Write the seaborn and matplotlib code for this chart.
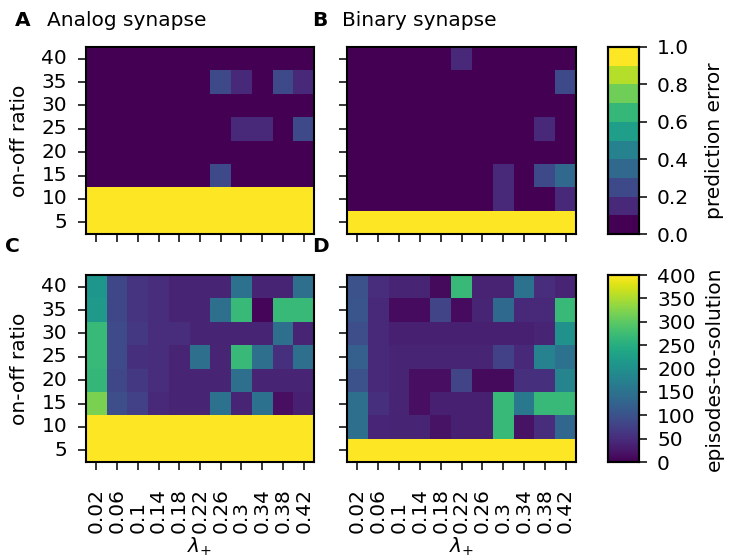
import numpy as np
import pandas as pd
import matplotlib
matplotlib.use("Agg")
import matplotlib as mpl
import matplotlib.pyplot as plt
import seaborn as sns

# ---- data ----
lambda_plus = ["0.02", "0.06", "0.1", "0.14", "0.18", "0.22", "0.26", "0.3", "0.34", "0.38", "0.42"]
on_off_ratio = ["40", "35", "30", "25", "20", "15", "10", "5"]  # top to bottom

analog_error = [
    [0, 0, 0, 0, 0, 0, 0, 0, 0, 0, 0],
    [0, 0, 0, 0, 0, 0, 0.25, 0.15, 0, 0.25, 0.15],
    [0, 0, 0, 0, 0, 0, 0, 0, 0, 0, 0],
    [0, 0, 0, 0, 0, 0, 0, 0.15, 0.15, 0, 0.25],
    [0, 0, 0, 0, 0, 0, 0, 0, 0, 0, 0],
    [0, 0, 0, 0, 0, 0, 0.25, 0, 0, 0, 0],
    [1, 1, 1, 1, 1, 1, 1, 1, 1, 1, 1],
    [1, 1, 1, 1, 1, 1, 1, 1, 1, 1, 1],
]
binary_error = [
    [0, 0, 0, 0, 0, 0.15, 0, 0, 0, 0, 0],
    [0, 0, 0, 0, 0, 0, 0, 0, 0, 0, 0.25],
    [0, 0, 0, 0, 0, 0, 0, 0, 0, 0, 0],
    [0, 0, 0, 0, 0, 0, 0, 0, 0, 0.15, 0],
    [0, 0, 0, 0, 0, 0, 0, 0, 0, 0, 0],
    [0, 0, 0, 0, 0, 0, 0, 0.15, 0, 0.25, 0.35],
    [0, 0, 0, 0, 0, 0, 0, 0.15, 0, 0, 0.15],
    [1, 1, 1, 1, 1, 1, 1, 1, 1, 1, 1],
]
analog_episodes = [
    [210, 85, 60, 50, 40, 40, 40, 150, 40, 40, 145],
    [215, 85, 60, 50, 40, 40, 145, 270, 5, 270, 270],
    [270, 90, 65, 50, 50, 40, 40, 40, 40, 145, 40],
    [270, 90, 55, 50, 40, 145, 40, 270, 145, 55, 145],
    [265, 85, 65, 50, 40, 40, 40, 145, 40, 40, 40],
    [320, 95, 75, 45, 40, 40, 150, 40, 150, 15, 35],
    [400, 400, 400, 400, 400, 400, 400, 400, 400, 400, 400],
    [400, 400, 400, 400, 400, 400, 400, 400, 400, 400, 400],
]
binary_episodes = [
    [100, 50, 40, 40, 10, 270, 38, 38, 150, 50, 40],
    [105, 45, 12, 12, 80, 12, 40, 135, 45, 45, 270],
    [95, 45, 35, 35, 35, 35, 35, 35, 35, 40, 200],
    [120, 45, 40, 40, 40, 40, 40, 75, 45, 175, 150],
    [100, 45, 40, 15, 15, 80, 10, 10, 55, 55, 180],
    [145, 55, 40, 15, 35, 35, 35, 270, 160, 270, 270],
    [145, 42, 40, 40, 20, 35, 35, 270, 20, 50, 130],
    [400, 400, 400, 400, 400, 400, 400, 400, 400, 400, 400],
]

# ---- style ----
sns.set_style("ticks")
plt.rcParams["font.family"] = ["DejaVu Sans"]
FS = 14.5
TL = 6.0   # tick length (pt)
TP = 5.0   # tick pad (pt)
plt.rcParams.update({
    "font.size": FS,
    "xtick.labelsize": FS,
    "ytick.labelsize": FS,
    "text.color": "black",
    "axes.labelcolor": "black",
    "xtick.color": "black",
    "ytick.color": "black",
})

W, H = 729, 557
fig = plt.figure(figsize=(W / 100, H / 100), dpi=100)

def rect(x0, y0, x1, y1):
    return [x0 / W, 1 - y1 / H, (x1 - x0) / W, (y1 - y0) / H]

axA = fig.add_axes(rect(86, 47, 314, 234))
axB = fig.add_axes(rect(347, 47, 576, 234))
axC = fig.add_axes(rect(86, 275, 314, 462))
axD = fig.add_axes(rect(347, 275, 576, 462))
cax1 = fig.add_axes(rect(608, 47, 639, 234))
cax2 = fig.add_axes(rect(608, 275, 639, 462))

err_cmap = mpl.colormaps["viridis"].resampled(10)
ep_cmap = mpl.colormaps["viridis"]

def frame(vals):
    return pd.DataFrame(vals, index=on_off_ratio, columns=lambda_plus)

# distance (pt) from axes bottom to the common bottom of rotated x tick labels
XLAB_BOTTOM_PT = (533 - 462) * 72 / 100

panels = [
    (axA, analog_error, err_cmap, 0, 1, cax1, True),
    (axB, binary_error, err_cmap, 0, 1, cax1, False),
    (axC, analog_episodes, ep_cmap, 0, 400, cax2, True),
    (axD, binary_episodes, ep_cmap, 0, 400, cax2, False),
]
for i, (ax, vals, cmap, vmin, vmax, cax, draw_cbar) in enumerate(panels):
    sns.heatmap(frame(vals), ax=ax, cmap=cmap, vmin=vmin, vmax=vmax,
                cbar=draw_cbar, cbar_ax=cax if draw_cbar else None,
                xticklabels=lambda_plus, yticklabels=on_off_ratio,
                linewidths=0)
    for s in ax.spines.values():
        s.set_visible(True)
        s.set_linewidth(1.5)
        s.set_color("black")
    ax.tick_params(axis="both", which="both", length=TL, width=1.1, color="black",
                   bottom=True, left=True, pad=TP)
    ax.tick_params(axis="y", pad=TP + 2.5)
    left_col = i in (0, 2)
    bottom_row = i in (2, 3)
    if left_col:
        ax.set_yticklabels(on_off_ratio, rotation=0)
        ax.set_ylabel("on-off ratio", fontsize=FS)
        ax.yaxis.set_label_coords((20 - 86) / 228, 0.5)
        ax.yaxis.label.set_verticalalignment("center")
    else:
        ax.set_yticklabels([])
        ax.set_ylabel("")
    if bottom_row:
        ax.set_xticklabels(lambda_plus, rotation=90)
        ax.tick_params(axis="x", pad=XLAB_BOTTOM_PT - TL)
        for lbl in ax.get_xticklabels():
            lbl.set_verticalalignment("bottom")
        ax.set_xlabel(r"$\lambda_{+}$", fontsize=FS, labelpad=2)
    else:
        ax.set_xticklabels([])
        ax.set_xlabel("")

for cax, ticks, lab in [(cax1, [0, 0.2, 0.4, 0.6, 0.8, 1.0], "prediction error"),
                        (cax2, [0, 50, 100, 150, 200, 250, 300, 350, 400], "episodes-to-solution")]:
    cax.set_yticks(ticks)
    if ticks[-1] == 1.0:
        cax.set_yticklabels([f"{t:.1f}" for t in ticks])
    else:
        cax.set_yticklabels([str(t) for t in ticks])
    cax.tick_params(length=TL, width=1.1, labelsize=FS, color="black", pad=TP + 2)
    cax.set_ylabel(lab, fontsize=FS)
    cax.yaxis.set_label_coords((714 - 608) / 31, 0.5)
    cax.yaxis.label.set_verticalalignment("center")
    cax.yaxis.label.set_horizontalalignment("center")
    for s in cax.spines.values():
        s.set_visible(True)
        s.set_linewidth(1.5)
        s.set_color("black")

# panel letters and titles
fig.text(15 / W, 1 - 21 / H, "A", fontweight="bold", fontsize=FS, va="center", ha="left")
fig.text(47 / W, 1 - 21 / H, "Analog synapse", fontsize=FS, va="center", ha="left")
fig.text(312 / W, 1 - 21 / H, "B", fontweight="bold", fontsize=FS, va="center", ha="left")
fig.text(342 / W, 1 - 21 / H, "Binary synapse", fontsize=FS, va="center", ha="left")
fig.text(5 / W, 1 - 246 / H, "C", fontweight="bold", fontsize=FS, va="center", ha="left")
fig.text(312 / W, 1 - 246 / H, "D", fontweight="bold", fontsize=FS, va="center", ha="left")

fig.savefig("out.png", dpi=100)
